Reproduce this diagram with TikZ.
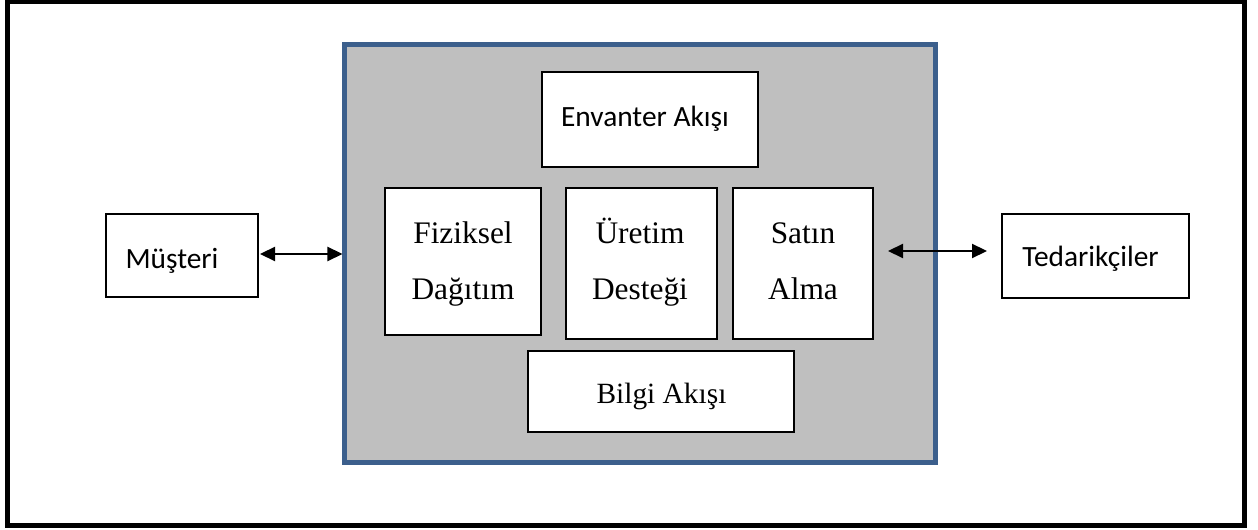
\documentclass[tikz,border=0pt]{standalone}
\usepackage{fontspec}
\setmainfont{Liberation Serif}
\newfontfamily\calibfont{Carlito}
\usetikzlibrary{arrows.meta}
\definecolor{frameblue}{RGB}{60,95,140}
\definecolor{panelgray}{RGB}{191,191,191}
\begin{document}
\begin{tikzpicture}[x=1bp,y=-1bp,
  box/.style={draw=black, line width=1.2bp, fill=white, inner sep=0pt, outer sep=0pt},
  sanslbl/.style={font=\calibfont\fontsize{29.5}{35}\selectfont, inner sep=0pt, anchor=base},
  seriflbl/.style={font=\fontsize{29.5}{35}\selectfont, inner sep=0pt, anchor=base},
  seriflbltwo/.style={font=\fontsize{31.5}{35}\selectfont, inner sep=0pt, anchor=base},
  arr/.style={line width=2.2bp, {Triangle[length=15bp,width=14bp]}-{Triangle[length=15bp,width=14bp]}}]
\fill[white] (0,0) rectangle (1258,530);
\useasboundingbox (0,0) rectangle (1258,530);
% outer frame
\draw[line width=5bp] (7.5,2) rectangle (1244.5,525.5);
% central panel
\node[draw=frameblue, line width=5bp, fill=panelgray, inner sep=0pt, outer sep=0pt,
      minimum width=590.5bp, minimum height=417.5bp] (main) at (639.75,253.25) {};
% boxes
\node[box, minimum width=216bp, minimum height=95bp] (env) at (650,119.5) {};
\node[box, minimum width=156bp, minimum height=147bp] (fiz) at (463,261.5) {};
\node[box, minimum width=151bp, minimum height=151bp] (ure) at (641.5,263.5) {};
\node[box, minimum width=140bp, minimum height=151bp] (sat) at (803,263.5) {};
\node[box, minimum width=266bp, minimum height=81bp] (bil) at (661,391.5) {};
\node[box, minimum width=152bp, minimum height=83bp] (mus) at (182,255.5) {};
\node[box, minimum width=187bp, minimum height=84bp] (ted) at (1095.5,256) {};
% labels
\node[sanslbl] (envT) at (645,127) {Envanter Akışı};
\node[sanslbl] (musT) at (172,269) {Müşteri};
\node[sanslbl] (tedT) at (1090.5,267) {Tedarikçiler};
\node[seriflbltwo] (fizA) at (463,244) {Fiziksel};
\node[seriflbltwo] (fizB) at (463,300) {Dağıtım};
\node[seriflbltwo] (ureA) at (640,244) {Üretim};
\node[seriflbltwo] (ureB) at (640,300) {Desteği};
\node[seriflbltwo] (satA) at (803,244) {Satın};
\node[seriflbltwo] (satB) at (803,300) {Alma};
\node[seriflbl] (bilT) at (661.5,403) {Bilgi Akışı};
% connectors
\draw[arr, shorten <=2bp, shorten >=2bp] ([yshift=1.5bp]mus.east) -- ([yshift=1.5bp]mus.east -| main.west);
\draw[arr, shorten <=15bp, shorten >=15bp] ([yshift=5bp]ted.west -| sat.east) -- ([yshift=5bp]ted.west);
\end{tikzpicture}
\end{document}
